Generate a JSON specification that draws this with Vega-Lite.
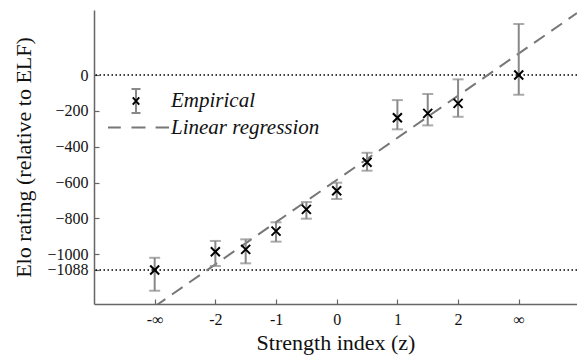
{
  "$schema": "https://vega.github.io/schema/vega-lite/v6.json",
  "width": 483,
  "height": 294,
  "autosize": {"type": "none"},
  "padding": {"left": 94, "top": 10, "right": 0, "bottom": 54},
  "config": {
    "view": {"stroke": null},
    "font": "Liberation Serif",
    "axis": {
      "grid": false,
      "domainColor": "#666",
      "domainWidth": 1.5,
      "tickColor": "#666",
      "tickWidth": 1.2,
      "tickSize": -5,
      "labelFont": "Liberation Serif",
      "labelFontSize": 16,
      "labelColor": "#111",
      "titleFont": "Liberation Serif",
      "titleFontSize": 22,
      "titleFontWeight": "normal",
      "titleColor": "#111",
      "labelFlush": false,
      "labelOverlap": false,
      "labelBound": false
    },
    "legend": {"padding": 0, "offset": 0, "rowPadding": 0, "labelLimit": 400, "labelFont": "Liberation Serif", "labelFontStyle": "italic"}
  },
  "datasets": {
    "pts": [
      {"z": -3, "elo": -1088, "lo": -1204, "hi": -1020},
      {"z": -2, "elo": -986, "lo": -1066, "hi": -926},
      {"z": -1.5, "elo": -973, "lo": -1051, "hi": -917},
      {"z": -1, "elo": -871, "lo": -930, "hi": -822},
      {"z": -0.5, "elo": -750, "lo": -802, "hi": -709},
      {"z": 0, "elo": -646, "lo": -692, "hi": -601},
      {"z": 0.5, "elo": -487, "lo": -534, "hi": -434},
      {"z": 1, "elo": -238, "lo": -303, "hi": -140},
      {"z": 1.5, "elo": -214, "lo": -281, "hi": -106},
      {"z": 2, "elo": -158, "lo": -233, "hi": -24},
      {"z": 3, "elo": 0, "lo": -110, "hi": 285}
    ],
    "ref": [{"v": 0}, {"v": -1088}],
    "reg": [{"z": -3, "elo": -1292}, {"z": 3.96, "elo": 346}],
    "leg1": [{"series": "Empirical"}],
    "leg3": [{"series": "Linear regression"}]
  },
  "layer": [
    {
      "data": {"name": "ref"},
      "mark": {"type": "rule", "color": "black", "strokeDash": [1.5, 2.5], "strokeWidth": 1.5},
      "encoding": {"y": {"field": "v", "type": "quantitative"}}
    },
    {
      "data": {"name": "reg"},
      "mark": {"type": "line", "color": "#777", "strokeDash": [13, 8], "strokeWidth": 2, "clip": true},
      "encoding": {
        "x": {"field": "z", "type": "quantitative"},
        "y": {"field": "elo", "type": "quantitative"}
      }
    },
    {
      "data": {"name": "pts"},
      "mark": {"type": "rule", "color": "#888", "strokeWidth": 2},
      "encoding": {
        "x": {
          "field": "z",
          "type": "quantitative",
          "scale": {"domain": [-4, 3.96], "nice": false, "zero": false},
          "axis": {
            "values": [-3, -2, -1, 0, 1, 2, 3],
            "labelExpr": "datum.value <= -3 ? '-∞' : datum.value >= 3 ? '∞' : datum.value < 0 ? '-' + (-datum.value) : '' + datum.value",
            "title": "Strength index (z)",
            "labelPadding": 12,
            "titlePadding": 5
          }
        },
        "y": {
          "field": "lo",
          "type": "quantitative",
          "scale": {"domain": [-1278, 363], "nice": false, "zero": false},
          "axis": {
            "values": [0, -200, -400, -600, -800, -1000, -1088],
            "format": "d",
            "title": "Elo rating (relative to ELF)",
            "labelPadding": 11,
            "titlePadding": 11
          }
        },
        "y2": {"field": "hi"}
      }
    },
    {
      "data": {"name": "pts"},
      "mark": {"type": "tick", "orient": "horizontal", "size": 11, "thickness": 2, "color": "#888"},
      "encoding": {
        "x": {"field": "z", "type": "quantitative"},
        "y": {"field": "lo", "type": "quantitative"}
      }
    },
    {
      "data": {"name": "pts"},
      "mark": {"type": "tick", "orient": "horizontal", "size": 11, "thickness": 2, "color": "#888"},
      "encoding": {
        "x": {"field": "z", "type": "quantitative"},
        "y": {"field": "hi", "type": "quantitative"}
      }
    },
    {
      "data": {"name": "pts"},
      "mark": {"type": "point", "shape": "M-1,-1L1,1M-1,1L1,-1", "size": 81, "color": "black", "strokeWidth": 2, "filled": false, "opacity": 1},
      "encoding": {
        "x": {"field": "z", "type": "quantitative"},
        "y": {"field": "elo", "type": "quantitative"}
      }
    },
    {
      "data": {"name": "leg1"},
      "mark": {"type": "point", "opacity": 0, "filled": false, "color": "#888", "strokeWidth": 2},
      "encoding": {
        "shape": {
          "field": "series",
          "type": "nominal",
          "scale": {"domain": ["Empirical"], "range": ["M-0.375,-1H0.375M0,-1V1M-0.375,1H0.375"]},
          "legend": {
            "title": null,
            "orient": "none",
            "legendX": 29,
            "legendY": 78,
            "symbolSize": 576,
            "symbolStrokeWidth": 2,
            "symbolStrokeColor": "#888",
            "symbolFillColor": "transparent",
            "symbolOpacity": 1,
            "labelFont": "Liberation Serif",
            "labelFontStyle": "italic",
            "labelFontSize": 21,
            "labelColor": "#111",
            "labelOffset": 22
          }
        }
      }
    },
    {
      "data": {"name": "leg1"},
      "mark": {"type": "point", "opacity": 0, "filled": false, "color": "black", "strokeWidth": 2},
      "encoding": {
        "shape": {
          "field": "series",
          "type": "nominal",
          "scale": {"domain": ["Empirical"], "range": ["M-0.27,-0.3L0.27,0.3M-0.27,0.3L0.27,-0.3"]},
          "legend": {
            "title": null,
            "orient": "none",
            "legendX": 29,
            "legendY": 78,
            "symbolSize": 576,
            "symbolStrokeWidth": 2,
            "symbolStrokeColor": "black",
            "symbolFillColor": "transparent",
            "symbolOpacity": 1,
            "labelFont": "Liberation Serif",
            "labelFontStyle": "italic",
            "labelFontSize": 21,
            "labelOpacity": 0,
            "labelOffset": 22
          }
        }
      }
    },
    {
      "data": {"name": "leg3"},
      "mark": {"type": "point", "opacity": 0, "filled": false, "color": "#777", "strokeWidth": 2},
      "encoding": {
        "shape": {
          "field": "series",
          "type": "nominal",
          "scale": {"domain": ["Linear regression"], "range": ["M-1,0H-0.58M-0.23,0H0.23M0.56,0H1"]},
          "legend": {
            "title": null,
            "orient": "none",
            "legendX": 13,
            "legendY": 86,
            "symbolSize": 3721,
            "symbolStrokeWidth": 2,
            "symbolStrokeColor": "#777",
            "symbolFillColor": "transparent",
            "symbolOpacity": 1,
            "labelFont": "Liberation Serif",
            "labelFontStyle": "italic",
            "labelFontSize": 21,
            "labelColor": "#111",
            "labelOffset": 1
          }
        }
      }
    }
  ],
  "resolve": {"scale": {"shape": "independent"}}
}
